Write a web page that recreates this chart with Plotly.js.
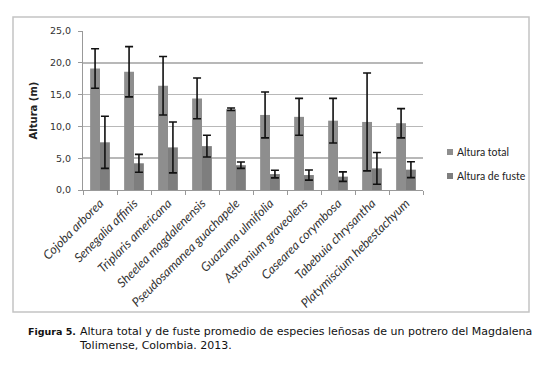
<!DOCTYPE html>
<html>
<head>
<meta charset="utf-8">
<script src="https://cdn.plot.ly/plotly-3.0.1.min.js"></script>
<style>html,body{margin:0;padding:0;background:#fff;}#chart{width:549px;height:379px;}</style>
</head>
<body>
<div id="chart"></div>
<script>
var species = ["Cojoba arborea","Senegalia affinis","Triplaris americana","Sheelea magdalenensis","Pseudosamanea guachapele","Guazuma ulmifolia","Astronium graveolens","Casearea corymbosa","Tabebuia chrysantha","Platymiscium hebestachyum"];
var alturaTotal = [19.1, 18.6, 16.4, 14.4, 12.7, 11.8, 11.5, 10.9, 10.7, 10.5];
var errTotal    = [3.1, 3.95, 4.6, 3.2, 0.2, 3.6, 2.9, 3.5, 7.7, 2.3];
var alturaFuste = [7.5, 4.2, 6.7, 6.9, 3.9, 2.5, 2.35, 2.1, 3.4, 3.2];
var errFuste    = [4.1, 1.4, 4.0, 1.7, 0.5, 0.6, 0.8, 0.75, 2.5, 1.25];
var yTicks = [0, 5, 10, 15, 20, 25];
var seriesNames = ["Altura total", "Altura de fuste"];
var seriesColors = ["#8e8e8e", "#7e7e7e"];

var errStyle = {type:'data', visible:true, color:'#111', thickness:1.6, width:4};
var traces = [
  {type:'bar', name:seriesNames[0], x:species, y:alturaTotal, marker:{color:seriesColors[0]},
   error_y:Object.assign({array:errTotal}, errStyle)},
  {type:'bar', name:seriesNames[1], x:species, y:alturaFuste, marker:{color:seriesColors[1]},
   error_y:Object.assign({array:errFuste}, errStyle)}
];

var L=83, R=423, T=31, B=190, W=340, H=159;
function px(x){return (x-L)/W;}
function py(y){return (B-y)/H;}

var shapes = [
  {type:'rect', xref:'paper', yref:'paper', x0:px(13), x1:px(529), y0:py(312), y1:py(17),
   line:{color:'#c4c4c4', width:1.5}, layer:'below'}
];
var annotations = [
  {xref:'paper', yref:'paper', x:px(26), y:py(331), xanchor:'left', yanchor:'middle', showarrow:false,
   text:'<b>Figura 5.</b>', font:{family:'DejaVu Sans, sans-serif', size:9.5, color:'#111'}},
  {xref:'paper', yref:'paper', x:px(77), y:py(323), xanchor:'left', yanchor:'top', showarrow:false, align:'left',
   text:'Altura total y de fuste promedio de especies leñosas de un potrero del Magdalena<br>Tolimense, Colombia. 2013.',
   font:{family:'DejaVu Sans, sans-serif', size:11, color:'#111'}}
];
var legendY = [152, 176];
seriesNames.forEach(function(n, i){
  shapes.push({type:'rect', xref:'paper', yref:'paper', x0:px(447), x1:px(453), y0:py(legendY[i]+3), y1:py(legendY[i]-3),
    fillcolor:seriesColors[i], line:{width:0}});
  annotations.push({xref:'paper', yref:'paper', x:px(455), y:py(legendY[i]), xanchor:'left', yanchor:'middle',
    showarrow:false, text:n, font:{family:'Lato, sans-serif', size:10.5, color:'#222'}});
});

var layout = {
  width:549, height:379,
  margin:{l:L, r:549-R, t:T, b:379-B, pad:0},
  paper_bgcolor:'#fff', plot_bgcolor:'#fff',
  separators:',.',
  barmode:'group', bargap:0.42, bargroupgap:0,
  showlegend:false,
  xaxis:{type:'category', tickson:'boundaries', ticks:'outside', ticklen:4, tickcolor:'#999',
         showline:true, linecolor:'#999', linewidth:1, showgrid:false, tickangle:-45,
         tickmode:'array', tickvals:species, ticktext:species.map(function(s){return '<i>'+s+'</i>';}),
         tickfont:{family:'Lato, sans-serif', size:12.5, color:'#333'}, fixedrange:true},
  yaxis:{range:[0,25], tickmode:'array', tickvals:yTicks, tickformat:'.1f', ticks:'outside', ticklen:4,
         tickcolor:'#999', showline:true, linecolor:'#999', linewidth:1, ticklabelstandoff:5,
         showgrid:true, gridcolor:'#b8b8b8', gridwidth:1.5, zeroline:false,
         tickfont:{family:'DejaVu Sans, sans-serif', size:9.5, color:'#333'},
         title:{text:'<b>Altura (m)</b>', font:{family:'DejaVu Sans, sans-serif', size:10, color:'#222'}, standoff:10}},
  shapes:shapes,
  annotations:annotations
};
Plotly.newPlot('chart', traces, layout, {displayModeBar:false, staticPlot:true});
</script>
</body>
</html>
